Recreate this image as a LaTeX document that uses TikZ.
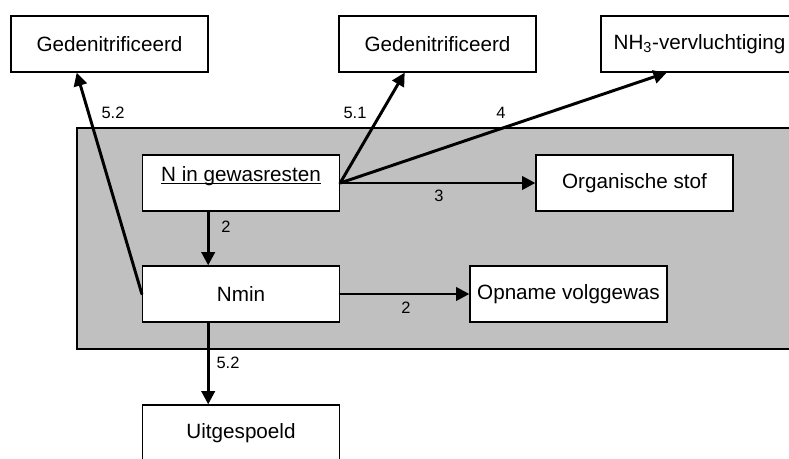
\documentclass[tikz,border=0pt]{standalone}
\usepackage{fontspec}
\setmainfont{Liberation Sans}
\usepackage{tikz}
\usetikzlibrary{arrows.meta}
\definecolor{soil}{RGB}{192,192,192}

\begin{document}
\begin{tikzpicture}[
	line cap=round,
	line join=round,
	box/.style={draw, line width=0.9pt, line join=miter, fill=white,
		minimum width=4.925cm, minimum height=1.4cm, inner sep=0pt,
		font=\fontsize{14.7}{17}\selectfont},
	flow/.style={line width=2.1pt, -{Triangle[length=3.3mm, width=3.3mm]}},
	num/.style={font=\fontsize{11.7}{14}\selectfont, inner sep=0pt}
	]
	\useasboundingbox (0,0) rectangle (19.725,11.45);
	
	% Soil zone
	\draw[line width=0.8pt, line join=miter, fill=soil] (1.925,2.725) rectangle (20.5,8.25);
	
	% Boxes
	\node[box] (gedL) at (2.7375,10.35) {Gedenitrificeerd};
	\node[box] (gedM) at (10.9375,10.35) {Gedenitrificeerd};
	\node[box] (nh3) at (17.4875,10.35) {NH\textsubscript{3}-vervluchtiging};
	
	\node[box] (rest) at (6.025,6.875) {\underline{\smash{N in gewasresten}}};
	\node[box] (org) at (15.8625,6.875) {Organische stof};
	
	\node[box] (nmin) at (6.025,4.1) {Nmin};
	\node[box] (opname) at (14.2125,4.1) {Opname volggewas};
	
	\node[box] (uit) at (6.025,0.625) {Uitgespoeld};
	
	% Flows
	\draw[flow] (nmin.west) -- ([xshift=-0.82cm]gedL.south);
	\draw[flow] (rest.east) -- ([xshift=-0.82cm]gedM.south);
	\draw[flow] (rest.east) -- ([xshift=-0.82cm]nh3.south);
	\draw[flow] (rest.east) -- (org.west);
	\draw[flow] ([xshift=-0.82cm]rest.south) -- ([xshift=-0.82cm]nmin.north);
	\draw[flow] (nmin.east) -- (opname.west);
	\draw[flow] ([xshift=-0.82cm]nmin.south) -- ([xshift=-0.82cm]uit.north);
	
	% Flow numbers
	\node[num] (nDenL) at (2.825,8.625) {5.2};
	\node[num] (nDenM) at (8.875,8.625) {5.1};
	\node[num] (nVerv) at (12.525,8.625) {4};
	\node[num] (nOrg) at (10.975,6.55) {3};
	\node[num] (nMin) at (5.65,5.775) {2};
	\node[num] (nOpn) at (10.15,3.75) {2};
	\node[num] (nUit) at (5.7,2.375) {5.2};
\end{tikzpicture}
\end{document}
